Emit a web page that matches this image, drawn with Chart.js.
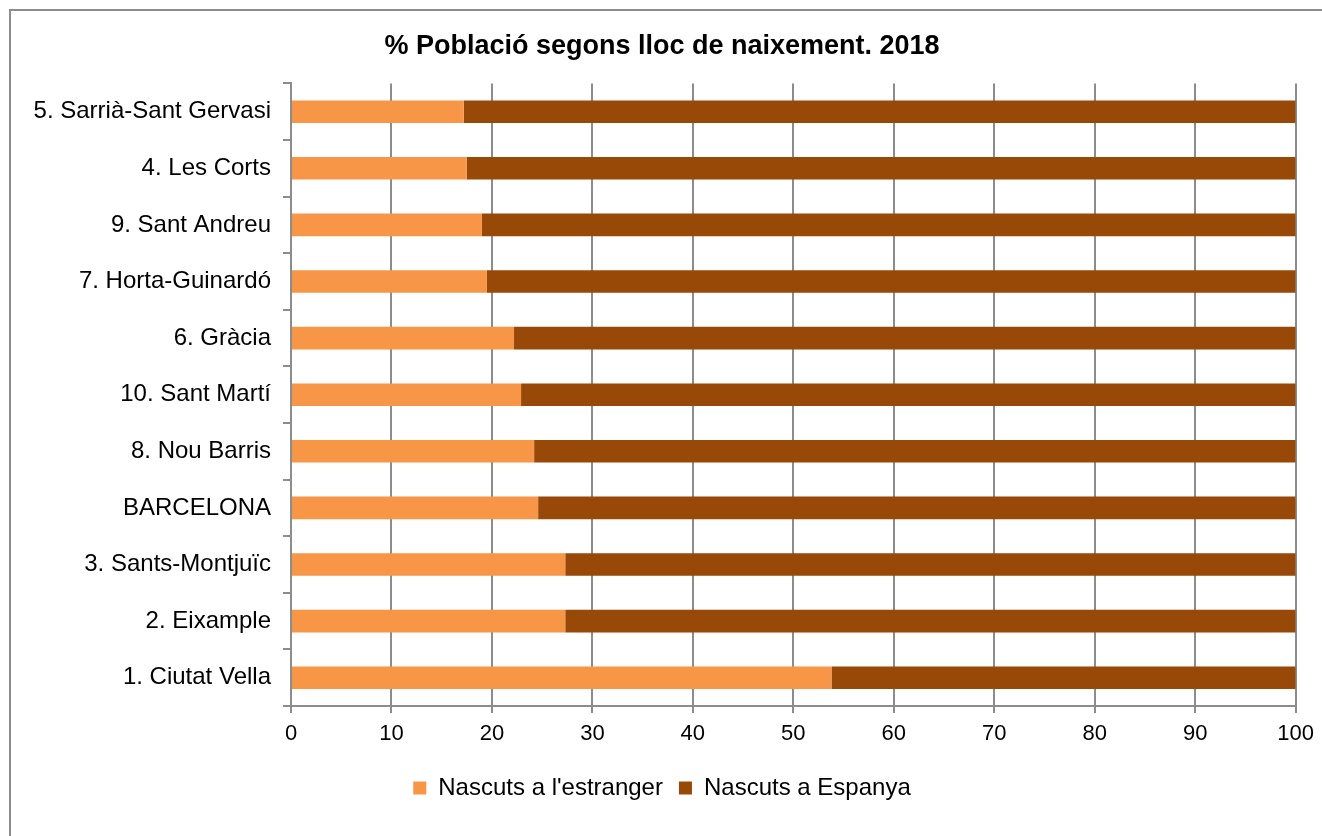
<!DOCTYPE html>
<html lang="ca">
<head>
<meta charset="utf-8">
<title>% Població segons lloc de naixement. 2018</title>
<script src="https://cdn.jsdelivr.net/npm/chart.js@4/dist/chart.umd.min.js"></script>
<style>
    body { margin: 0; background: #fff; }
    .wrap { position: relative; width: 1322px; height: 836px; overflow: hidden; }
    .frame { position: absolute; left: 9px; top: 9px; width: 1330px; height: 840px; border: 2px solid #8c8c8c; box-sizing: border-box; }
    canvas { position: absolute; left: 0; top: 0; }
</style>
</head>
<body>
<div class="wrap">
    <div class="frame"></div>
    <canvas id="birthChart" width="1322" height="836"></canvas>
</div>
<script>
// Districtes, ordenats de dalt a baix
const districts = [
    '5. Sarrià-Sant Gervasi',
    '4. Les Corts',
    '9. Sant Andreu',
    '7. Horta-Guinardó',
    '6. Gràcia',
    '10. Sant Martí',
    '8. Nou Barris',
    'BARCELONA',
    '3. Sants-Montjuïc',
    '2. Eixample',
    '1. Ciutat Vella'
];

// % nascuts a l'estranger
const bornAbroad = [17.2, 17.5, 19.0, 19.5, 22.2, 22.9, 24.2, 24.6, 27.3, 27.3, 53.8];

// % nascuts a Espanya
const bornSpain = [82.8, 82.5, 81.0, 80.5, 77.8, 77.1, 75.8, 75.4, 72.7, 72.7, 46.2];

const seriesNames = ["Nascuts a l'estranger", 'Nascuts a Espanya'];
const xTicks = [0, 10, 20, 30, 40, 50, 60, 70, 80, 90, 100];

const FONT = '"Liberation Sans", Arial, sans-serif';
const GRID = '#8c8c8c';

Chart.defaults.font.family = FONT;
Chart.defaults.color = '#000';

const ctx = document.getElementById('birthChart').getContext('2d');
new Chart(ctx, {
    type: 'bar',
    data: {
        labels: districts,
        datasets: [
            {
                label: seriesNames[0],
                data: bornAbroad,
                backgroundColor: '#F79646',
                barPercentage: 0.4,
                categoryPercentage: 1
            },
            {
                label: seriesNames[1],
                data: bornSpain,
                backgroundColor: '#984807',
                barPercentage: 0.4,
                categoryPercentage: 1
            }
        ]
    },
    options: {
        indexAxis: 'y',
        responsive: false,
        animation: false,
        layout: {
            padding: { left: 10, right: 8, top: 30, bottom: 26 }
        },
        scales: {
            x: {
                stacked: true,
                min: 0,
                max: 100,
                afterBuildTicks: function(scale) {
                    scale.ticks = xTicks.map(v => ({ value: v }));
                },
                afterFit: function(scale) {
                    scale.height = 54;
                },
                grid: {
                    color: GRID,
                    lineWidth: 2,
                    tickLength: 7,
                    tickColor: GRID
                },
                border: { color: GRID, width: 2 },
                ticks: {
                    font: { size: 22 },
                    color: '#000',
                    padding: 8,
                    maxRotation: 0
                }
            },
            y: {
                stacked: true,
                afterFit: function(scale) {
                    scale.width = 281;
                },
                grid: {
                    offset: true,
                    drawOnChartArea: false,
                    tickLength: 8,
                    tickColor: GRID,
                    lineWidth: 2
                },
                border: { color: GRID, width: 2 },
                ticks: {
                    font: { size: 24 },
                    color: '#000',
                    padding: 12
                }
            }
        },
        plugins: {
            title: {
                display: true,
                text: '% Població segons lloc de naixement. 2018',
                font: { size: 27, weight: 'bold' },
                color: '#000',
                padding: { top: 0, bottom: 21 }
            },
            legend: {
                position: 'bottom',
                labels: {
                    boxWidth: 13,
                    boxHeight: 13,
                    font: { size: 24 },
                    color: '#000',
                    padding: 16
                }
            },
            tooltip: { enabled: false }
        }
    }
});
</script>
</body>
</html>
